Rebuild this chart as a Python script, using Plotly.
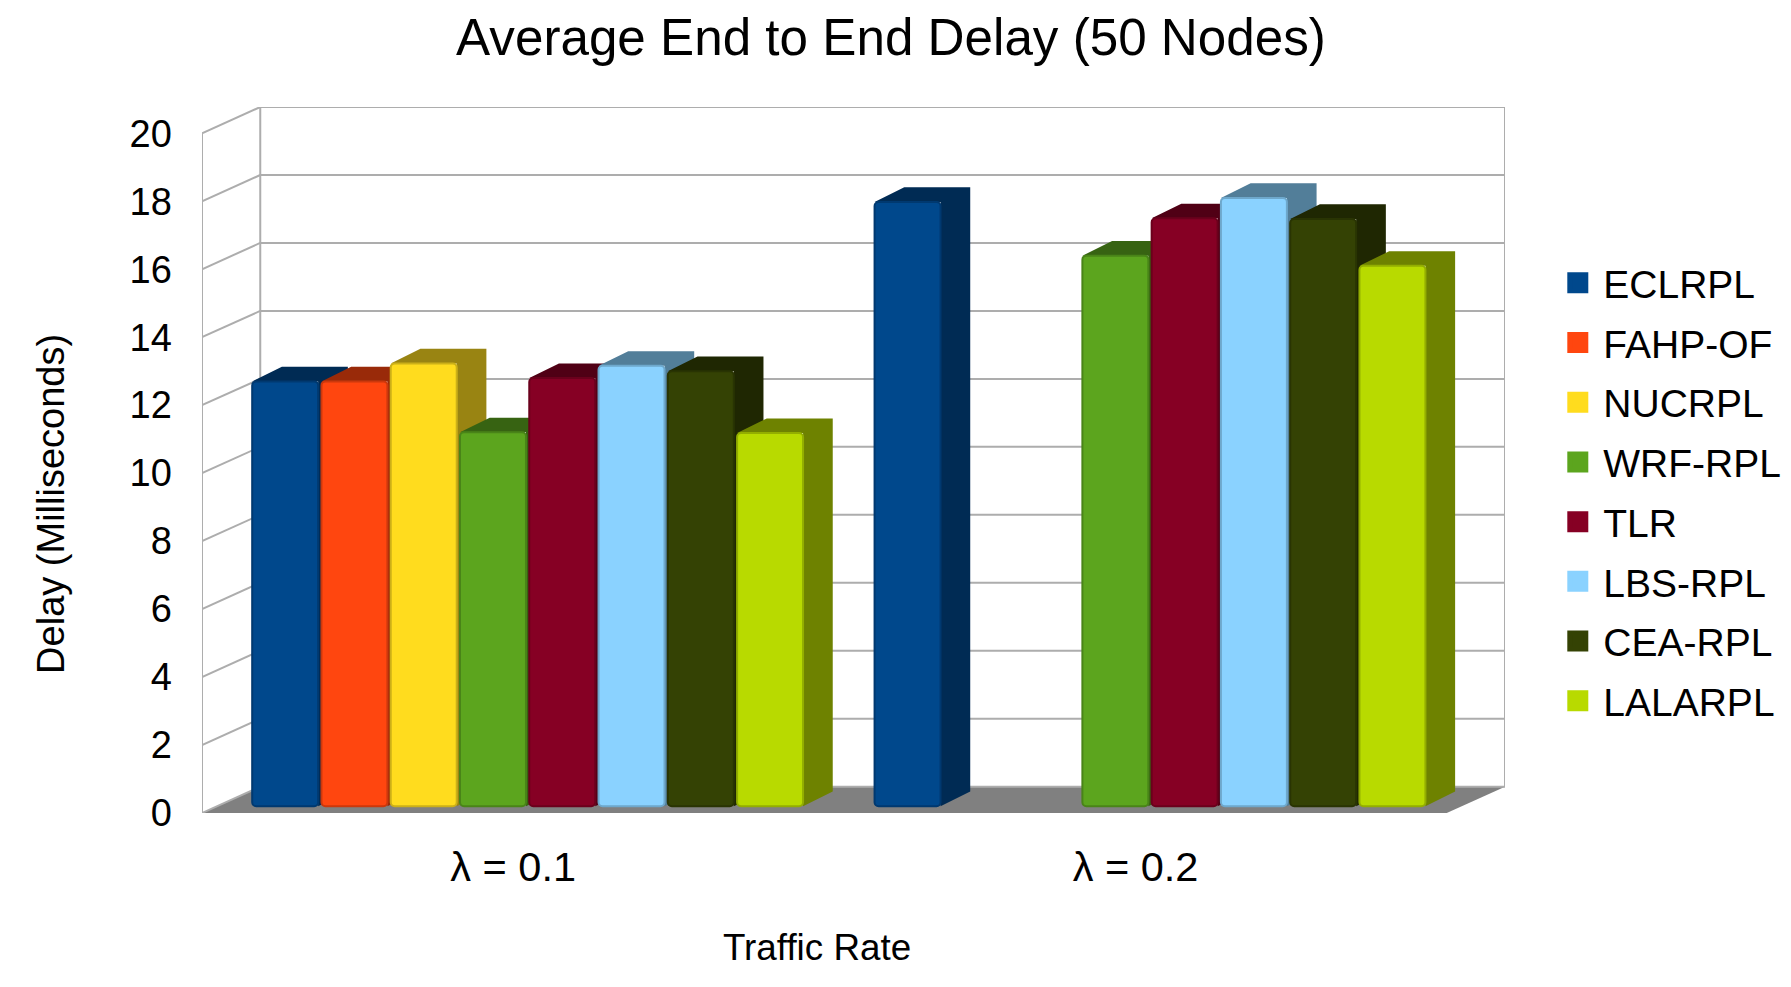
import plotly.graph_objects as go

categories = ["λ = 0.1", "λ = 0.2"]
series = ["ECLRPL", "FAHP-OF", "NUCRPL", "WRF-RPL", "TLR", "LBS-RPL", "CEA-RPL", "LALARPL"]
values_01 = [12.5, 12.5, 13.03, 11.0, 12.6, 12.96, 12.8, 10.98]
values_02 = [17.78, None, None, 16.2, 17.3, 17.9, 17.28, 15.9]
colors = ["#00488c", "#ff460f", "#ffdc1e", "#5ca51e", "#860024", "#8ad2ff", "#344204", "#b8da00"]
y_ticks = list(range(0, 21, 2))

WALL_DX, WALL_DY = 0.0936, 0.774
BAR_DX, BAR_DY = 0.0477, 0.43
BAR_BASE, BAR_START, SLOT, BAR_W = 0.2, 0.078, 0.1113, 0.106
GRID = "#adadad"
FONT = "Liberation Sans"


def shade(hex_color, f):
    r, g, b = (int(hex_color[i:i + 2], 16) for i in (1, 3, 5))
    return f"rgb({int(r * f)},{int(g * f)},{int(b * f)})"


def poly(points, fill):
    path = "M " + " L ".join(f"{x},{y}" for x, y in points) + " Z"
    return dict(type="path", path=path, xref="x", yref="y", fillcolor=fill,
                line=dict(width=0), layer="below")


def seg(x0, y0, x1, y1):
    return dict(type="line", x0=x0, y0=y0, x1=x1, y1=y1, xref="x", yref="y",
                line=dict(color=GRID, width=2), layer="below")


n_cat = len(categories)
shapes = []
# floor
shapes.append(poly([(0, 0), (n_cat, 0), (n_cat + WALL_DX, WALL_DY), (WALL_DX, WALL_DY)], "#808080"))
# walls and gridlines
for t in y_ticks:
    shapes.append(seg(0, t, WALL_DX, t + WALL_DY))
    shapes.append(seg(WALL_DX, t + WALL_DY, n_cat + WALL_DX, t + WALL_DY))
top = y_ticks[-1]
shapes.append(seg(0, 0, 0, top))
shapes.append(seg(WALL_DX, WALL_DY, WALL_DX, top + WALL_DY))
shapes.append(seg(n_cat + WALL_DX, WALL_DY, n_cat + WALL_DX, top + WALL_DY))

fig = go.Figure()
for i, name in enumerate(series):
    xs, ys = [], []
    for g, vals in enumerate([values_01, values_02]):
        xs.append(g + BAR_START + (i + 0.5) * SLOT)
        ys.append(vals[i])
        if vals[i] is not None:
            x0, x1 = xs[-1] - BAR_W / 2, xs[-1] + BAR_W / 2
            t = BAR_BASE + vals[i]
            shapes.append(poly([(x0, t), (x0 + BAR_DX, t + BAR_DY), (x1 + BAR_DX, t + BAR_DY),
                                (x1 + BAR_DX, BAR_BASE + BAR_DY), (x1, BAR_BASE), (x1, t)],
                               shade(colors[i], 0.6)))
    fig.add_trace(go.Bar(x=xs, y=ys, base=BAR_BASE, width=BAR_W, name=name, legendgroup=name,
                         showlegend=False,
                         marker=dict(color=colors[i], cornerradius=4,
                                     line=dict(color=shade(colors[i], 0.8), width=2))))
    fig.add_trace(go.Scatter(x=[None], y=[None], name=name, legendgroup=name, mode="markers",
                             marker=dict(symbol="square", size=16, color=colors[i],
                                         line=dict(color=colors[i], width=10))))

W, H = 1791, 987
L, R, T, B = 202, 1505.5, 107.4, 813
fig.update_layout(
    width=W, height=H, autosize=False, template=None,
    paper_bgcolor="white", plot_bgcolor="white",
    margin=dict(l=L, r=W - R, t=T, b=H - B, pad=0),
    barmode="overlay", shapes=shapes,
    font=dict(family=FONT, color="black", size=37),
    title=dict(text="Average End to End Delay (50 Nodes)", x=891 / W, xanchor="center",
               xref="container", y=1 - 37 / H, yanchor="middle",
               font=dict(size=51.2, family=FONT, color="black")),
    xaxis=dict(range=[0, n_cat + WALL_DX], tickmode="array",
               tickvals=[g + 0.5 for g in range(n_cat)], ticktext=categories,
               showgrid=False, zeroline=False, showline=False,
               ticks="outside", ticklen=17.5, tickcolor="rgba(0,0,0,0)",
               tickfont=dict(size=41.5)),
    yaxis=dict(range=[0, top + WALL_DY], tickmode="array", tickvals=y_ticks,
               showgrid=False, zeroline=False, showline=False,
               ticks="outside", ticklen=21.5, tickcolor="rgba(0,0,0,0)",
               tickfont=dict(size=38)),
    legend=dict(x=(1566 - 13.7) / W, y=1 - 251 / H, xref="container", yref="container",
                xanchor="left", yanchor="top", maxheight=640, itemwidth=41,
                font=dict(size=39), tracegroupgap=6, itemclick=False,
                bgcolor="rgba(0,0,0,0)", borderwidth=0),
    annotations=[
        dict(text="Traffic Rate", xref="paper", yref="paper",
             x=(817 - L) / (R - L), y=(B - 947) / (B - T), showarrow=False,
             xanchor="center", yanchor="middle", font=dict(size=36.8)),
        dict(text="Delay (Milliseconds)", xref="paper", yref="paper", textangle=-90,
             x=(51 - L) / (R - L), y=(B - 504) / (B - T), showarrow=False,
             xanchor="center", yanchor="middle", font=dict(size=38)),
    ],
)
fig.write_html("out.html", config={"displayModeBar": False},
               post_script="document.body.style.margin='0';")
